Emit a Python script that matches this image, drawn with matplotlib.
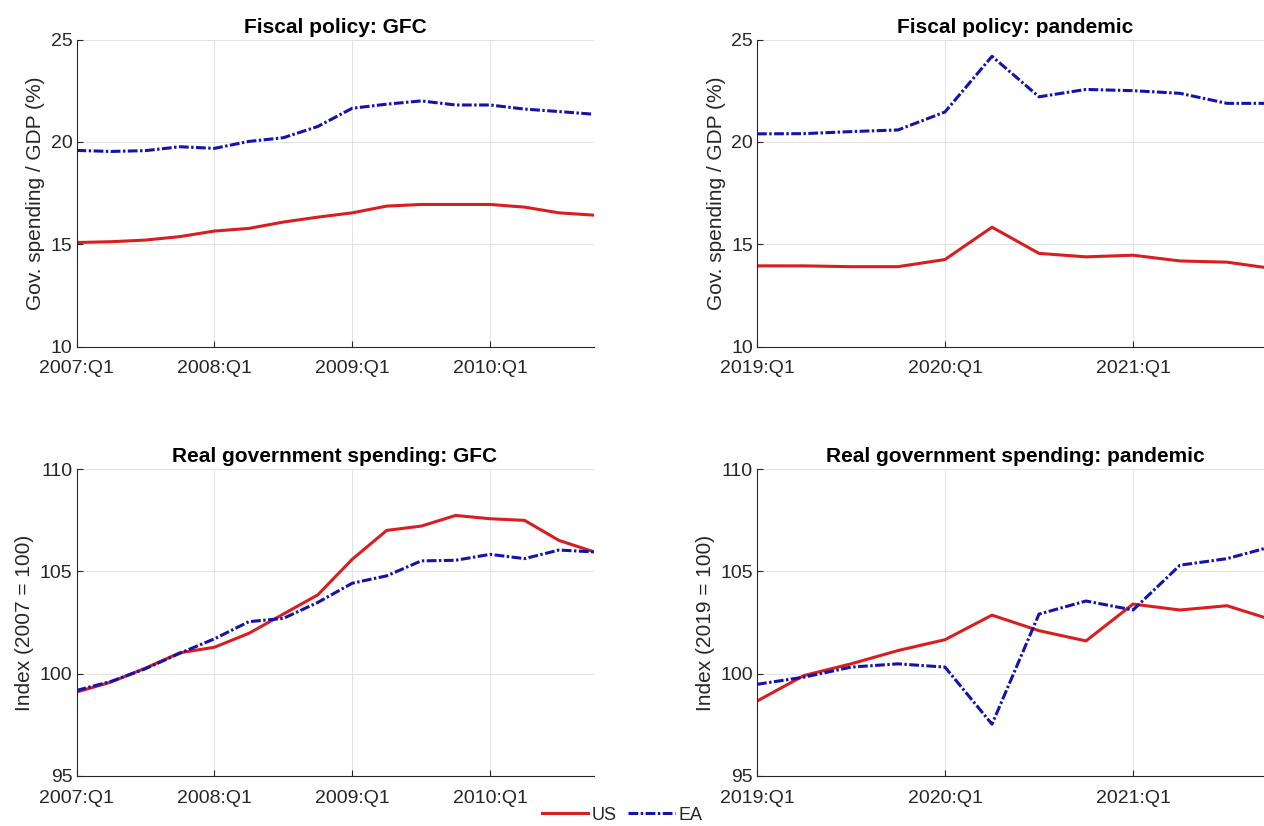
import matplotlib
matplotlib.use("Agg")
import matplotlib.pyplot as plt
import numpy as np

plt.rcParams['font.family'] = ['Liberation Sans', 'DejaVu Sans']

# quarterly series, GFC window 2007:Q1-2010:Q4
gfc_ticks = ['2007:Q1', '2008:Q1', '2009:Q1', '2010:Q1']
gfc_share_us = [15.08, 15.12, 15.20, 15.37, 15.64, 15.77, 16.08, 16.32,
                16.53, 16.86, 16.94, 16.94, 16.94, 16.81, 16.53, 16.42]
gfc_share_ea = [19.58, 19.53, 19.57, 19.76, 19.68, 20.02, 20.20, 20.75,
                21.64, 21.84, 22.00, 21.80, 21.80, 21.60, 21.48, 21.35]
gfc_real_us = [99.10, 99.59, 100.27, 101.02, 101.29, 101.97, 102.91, 103.85,
               105.59, 107.00, 107.21, 107.73, 107.57, 107.49, 106.51, 105.96]
gfc_real_ea = [99.18, 99.62, 100.24, 101.00, 101.70, 102.54, 102.70, 103.48,
               104.42, 104.78, 105.51, 105.54, 105.83, 105.62, 106.04, 105.95]

# pandemic window 2019:Q1-2021:Q4
pan_ticks = ['2019:Q1', '2020:Q1', '2021:Q1']
pan_share_us = [13.94, 13.94, 13.90, 13.90, 14.25, 15.83,
                14.55, 14.38, 14.46, 14.18, 14.12, 13.80]
pan_share_ea = [20.39, 20.40, 20.50, 20.58, 21.46, 24.18,
                22.20, 22.56, 22.50, 22.37, 21.88, 21.88]
pan_real_us = [98.66, 99.91, 100.48, 101.13, 101.66, 102.86,
               102.10, 101.60, 103.40, 103.11, 103.32, 102.60]
pan_real_ea = [99.48, 99.83, 100.32, 100.48, 100.32, 97.53,
               102.91, 103.55, 103.11, 105.30, 105.62, 106.24]

US_COLOR = '#d81e1e'
EA_COLOR = '#1414aa'
TEXT = '#262626'
EA_DASH = (0, (3.2, 0.8, 0.8, 0.8))

W, H = 1264, 826
fig = plt.figure(figsize=(W / 100, H / 100), dpi=100)


def px_axes(left, top, width=517, height=307):
    return fig.add_axes([left / W, 1 - (top + height) / H, width / W, height / H])


def style(ax, title, ylabel, ylim, yticks, labels, n):
    ax.set_xlim(0, n - 1)
    ax.set_ylim(*ylim)
    ax.set_yticks(yticks)
    ax.set_xticks(np.arange(len(labels)) * 4)
    ax.set_xticklabels(labels)
    ax.set_title(title, fontsize=15, fontweight='bold', pad=5)
    ax.set_ylabel(ylabel, fontsize=15, color=TEXT, labelpad=4)
    ax.grid(True, color='#e3e3e3', linewidth=0.7)
    ax.set_axisbelow(True)
    for s in ('top', 'right'):
        ax.spines[s].set_visible(False)
    for s in ('left', 'bottom'):
        ax.spines[s].set_color(TEXT)
        ax.spines[s].set_linewidth(0.8)
    ax.tick_params(direction='in', length=4, width=0.8, colors=TEXT, labelsize=14)
    ax.tick_params(axis='y', pad=3)
    ax.tick_params(axis='x', pad=10)


panels = [
    (76.5, 39.5, 'Fiscal policy: GFC', 'Gov. spending / GDP (%)', (10, 25), [10, 15, 20, 25],
     gfc_ticks, gfc_share_us, gfc_share_ea),
    (757, 39.5, 'Fiscal policy: pandemic', 'Gov. spending / GDP (%)', (10, 25), [10, 15, 20, 25],
     pan_ticks, pan_share_us, pan_share_ea),
    (76.5, 469, 'Real government spending: GFC', 'Index (2007 = 100)', (95, 110), [95, 100, 105, 110],
     gfc_ticks, gfc_real_us, gfc_real_ea),
    (757, 469, 'Real government spending: pandemic', 'Index (2019 = 100)', (95, 110), [95, 100, 105, 110],
     pan_ticks, pan_real_us, pan_real_ea),
]

for left, top, title, ylabel, ylim, yticks, labels, us, ea in panels:
    ax = px_axes(left, top)
    x = np.arange(len(us))
    ax.plot(x, us, color=US_COLOR, linewidth=2.2, label='US')
    ax.plot(x, ea, color=EA_COLOR, linewidth=2.2, linestyle=EA_DASH, label='EA')
    style(ax, title, ylabel, ylim, yticks, labels, len(us))

handles, names = ax.get_legend_handles_labels()
fig.legend(handles, names, loc='center', bbox_to_anchor=(622 / W, 1 - 815 / H),
           ncol=2, frameon=False, fontsize=13, handlelength=2.6,
           handletextpad=0.2, columnspacing=0.6, labelcolor=TEXT)

fig.savefig('out.png', dpi=100)
